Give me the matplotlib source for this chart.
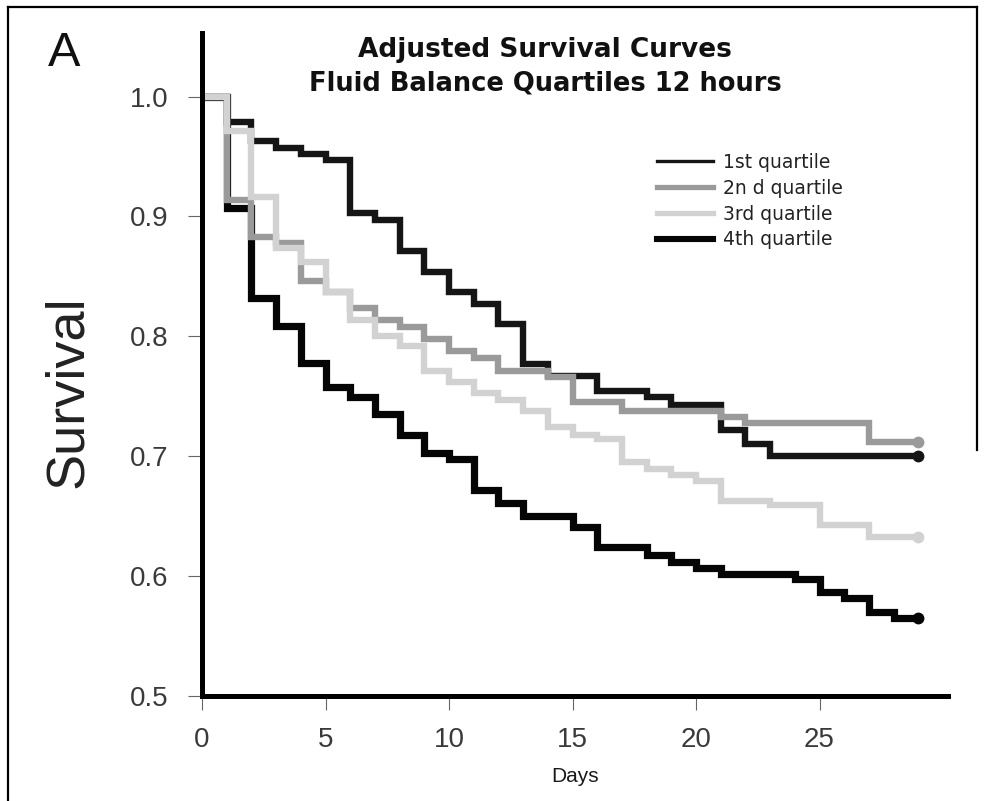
import matplotlib
matplotlib.use("Agg")
import matplotlib.pyplot as plt
from matplotlib import font_manager
from matplotlib.lines import Line2D

# ---------------- data ----------------
days = list(range(0, 30))  # 0..29
q1 = [1.000, 0.979, 0.963, 0.957, 0.952, 0.947, 0.903, 0.897, 0.871, 0.854,
      0.837, 0.827, 0.810, 0.777, 0.767, 0.767, 0.754, 0.754, 0.749, 0.743,
      0.743, 0.722, 0.710, 0.700, 0.700, 0.700, 0.700, 0.700, 0.700, 0.700]
q2 = [1.000, 0.914, 0.883, 0.878, 0.846, 0.837, 0.824, 0.814, 0.808, 0.798,
      0.788, 0.782, 0.771, 0.771, 0.766, 0.745, 0.745, 0.738, 0.738, 0.738,
      0.738, 0.733, 0.728, 0.728, 0.728, 0.728, 0.728, 0.712, 0.712, 0.712]
q3 = [1.000, 0.971, 0.916, 0.874, 0.862, 0.837, 0.814, 0.800, 0.792, 0.771,
      0.762, 0.753, 0.747, 0.738, 0.724, 0.718, 0.714, 0.695, 0.689, 0.684,
      0.679, 0.663, 0.663, 0.659, 0.659, 0.643, 0.643, 0.633, 0.633, 0.633]
q4 = [1.000, 0.907, 0.832, 0.809, 0.778, 0.758, 0.749, 0.735, 0.718, 0.703,
      0.698, 0.672, 0.661, 0.650, 0.650, 0.641, 0.624, 0.624, 0.618, 0.612,
      0.607, 0.602, 0.602, 0.602, 0.598, 0.587, 0.582, 0.570, 0.565, 0.565]
labels = ["1st quartile", "2n d quartile", "3rd quartile", "4th quartile"]
xticks = [0, 5, 10, 15, 20, 25]
yticks = [0.5, 0.6, 0.7, 0.8, 0.9, 1.0]

# ---------------- fonts ----------------
avail = {f.name for f in font_manager.fontManager.ttflist}
narrow = "Liberation Sans Narrow" if "Liberation Sans Narrow" in avail else "Liberation Sans"
plt.rcParams['font.family'] = ['Liberation Sans', 'DejaVu Sans']

W, H = 985, 801
fig = plt.figure(figsize=(W / 100, H / 100), dpi=100)
fig.patch.set_facecolor("white")

def fx(px):
    return px / W

def fy(py):
    return 1 - py / H

ax = fig.add_axes([fx(202), fy(696), fx(948) - fx(202), fy(33) - fy(696)])

series = [
    (q4, "#050505", 5.2, 2),
    (q1, "#151515", 4.6, 3),
    (q2, "#9a9a9a", 4.6, 4),
    (q3, "#d2d2d2", 4.6, 5),
]
for vals, col, lw, z in series:
    ax.step(days, vals, where="post", color=col, lw=lw, zorder=z,
            solid_joinstyle="miter", solid_capstyle="butt")
    ax.plot([days[-1]], [vals[-1]], "o", color=col, ms=7.5, zorder=z)

ax.set_xlim(0, 30.2)
ax.set_ylim(0.5, 1.053)
for s in ["top", "right"]:
    ax.spines[s].set_visible(False)
for s in ["left", "bottom"]:
    ax.spines[s].set_linewidth(3.6)
    ax.spines[s].set_color("black")
    ax.spines[s].set_zorder(10)

ax.set_xticks(xticks)
ax.set_yticks(yticks)
ax.set_xticklabels([str(t) for t in xticks])
ax.set_yticklabels([f"{t:.1f}" for t in yticks])
ax.tick_params(axis="both", direction="out", length=10, width=0.8,
               color="#666666", labelcolor="#3a3a3a", labelsize=20)
ax.tick_params(axis="x", pad=12)
ax.tick_params(axis="y", pad=14)
for lab in ax.get_xticklabels() + ax.get_yticklabels():
    lab.set_fontfamily(narrow)

# legend
leg_specs = [("#151515", 2.4), ("#9a9a9a", 3.8), ("#d2d2d2", 3.8), ("#050505", 4.4)]
leg_handles = [Line2D([0], [0], color=c, lw=w) for c, w in leg_specs]
leg = ax.legend(leg_handles, labels, loc="upper left",
                bbox_to_anchor=(fx(657), fy(153)), bbox_transform=fig.transFigure,
                frameon=False, handlelength=3.0, handletextpad=0.5,
                labelspacing=0.36, borderaxespad=0, borderpad=0,
                prop={"family": "DejaVu Sans", "size": 13.5})
for t in leg.get_texts():
    t.set_color("#222222")

# texts
fig.text(fx(64), fy(54), "A", fontsize=35, ha="center", va="center", color="#111111")
fig.text(fx(545), fy(50), "Adjusted Survival Curves", fontsize=19, fontweight="bold",
         ha="center", va="center", color="#111111", family="DejaVu Sans")
fig.text(fx(545), fy(83), "Fluid Balance Quartiles 12 hours", fontsize=18.5, fontweight="bold",
         ha="center", va="center", color="#111111", family="DejaVu Sans")
fig.text(fx(68), fy(392), "Survival", fontsize=39, rotation=90, ha="center", va="center",
         color="#222222", family=narrow)
fig.text(fx(575), fy(776), "Days", fontsize=15, ha="center", va="center", color="#1a1a1a")

# frame around the figure
fig.add_artist(Line2D([fx(8), fx(8)], [fy(7), fy(801)], color="black", lw=1.6))
fig.add_artist(Line2D([fx(8), fx(977)], [fy(7), fy(7)], color="black", lw=1.6))
fig.add_artist(Line2D([fx(977), fx(977)], [fy(7), fy(450)], color="black", lw=1.6))

fig.savefig("out.png", dpi=100, facecolor="white")
